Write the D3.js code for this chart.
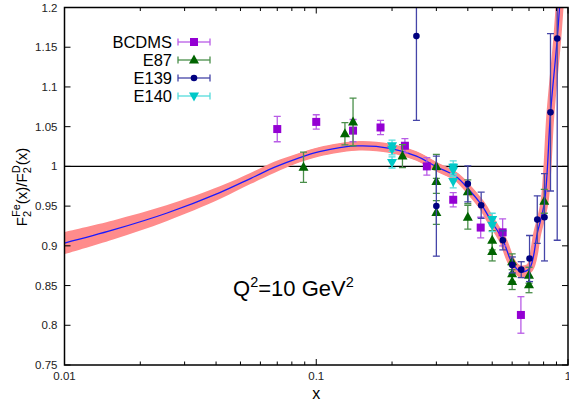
<!DOCTYPE html>
<html><head><meta charset="utf-8">
<script src="https://cdn.jsdelivr.net/npm/d3@7"></script>
<style>body{margin:0;background:#fff}svg{display:block;font-family:"Liberation Sans",Arial,sans-serif}</style>
</head><body><svg id="c" width="569" height="400"></svg>
<script>
// ---- data ----
const curveX   = [0.01,0.0156,0.0254,0.0414,0.055,0.0684,0.085,0.103,0.144,0.196,0.25,0.300,0.360,0.406,0.455,0.488,0.551,0.601,0.652,0.7035,0.755,0.8065,0.852,0.906,0.93];
const curveY   = [0.9035,0.920,0.941,0.967,0.985,0.999,1.0105,1.0185,1.0257,1.0228,1.013,0.9996,0.987,0.970,0.951,0.9346,0.9073,0.878,0.8674,0.8717,0.9158,0.955,1.067,1.160,1.21];
const curveErr = [0.014,0.012,0.010,0.008,0.007,0.007,0.006,0.006,0.006,0.006,0.006,0.006,0.006,0.006,0.007,0.007,0.007,0.008,0.008,0.008,0.009,0.010,0.012,0.015,0.016];

const bcdmsX = [0.07,0.1,0.14,0.18,0.225,0.275,0.35,0.45,0.55,0.65];
const bcdmsY = [1.047,1.056,1.045,1.049,1.026,1.000,0.958,0.923,0.917,0.813];
const bcdmsE = [0.016,0.009,0.014,0.009,0.009,0.011,0.009,0.013,0.017,0.023];

const e87X = [0.089,0.13,0.14,0.22,0.30,0.30,0.30,0.40,0.40,0.50,0.50,0.60,0.60,0.60,0.70,0.70,0.805];
const e87Y = [0.999,1.041,1.056,1.013,1.000,0.981,0.942,0.968,0.936,0.907,0.893,0.880,0.865,0.855,0.863,0.851,0.956];
const e87E = [0.019,0.014,0.030,0.0145,0.015,0.015,0.015,0.015,0.015,0.012,0.012,0.010,0.010,0.010,0.010,0.010,0.015];

const e139X = [0.25,0.30,0.40,0.452,0.551,0.601,0.652,0.7035,0.755,0.8065,0.852,0.906];
const e139Y = [1.164,0.950,0.978,0.951,0.907,0.876,0.870,0.884,0.933,0.936,1.068,1.161];
const e139E = [0.106,0.063,0.0227,0.0165,0.012,0.01,0.01,0.029,0.03,0.055,0.099,0.254];

const e140X = [0.2,0.2,0.2,0.35,0.35,0.35,0.5,0.5];
const e140Y = [1.026,1.0215,1.005,0.999,0.995,0.981,0.933,0.926];
const e140E = [0.007,0.007,0.007,0.008,0.008,0.008,0.008,0.008];

const yTicks = [0.75,0.8,0.85,0.9,0.95,1,1.05,1.1,1.15,1.2];
const xTicks = [0.01,0.1,1];
const xTickLabels = ["0.01","0.1","1"];
const legendNames = ["BCDMS","E87","E139","E140"];

// ---- layout ----
const svg = d3.select("#c");
const L=64.5, R=568, T=7.5, B=365;
const x = d3.scaleLog().domain([0.01,1]).range([L,R]);
const y = d3.scaleLinear().domain([0.75,1.2]).range([B,T]);

svg.append("defs").append("clipPath").attr("id","clip")
  .append("rect").attr("x",L).attr("y",T).attr("width",R-L).attr("height",B-T);

const plot = svg.append("g").attr("clip-path","url(#clip)");

plot.append("line").attr("x1",L).attr("x2",R).attr("y1",y(1)).attr("y2",y(1))
  .attr("stroke","#000").attr("stroke-width",1.3);

const cdata = curveX.map((v,i)=>({x:v,y:curveY[i],e:curveErr[i]}));
const cv = d3.curveCatmullRom.alpha(0.5);
const area = d3.area().x(d=>x(d.x)).y0(d=>y(d.y-d.e)).y1(d=>y(d.y+d.e)).curve(cv);
const line = d3.line().x(d=>x(d.x)).y(d=>y(d.y)).curve(cv);
plot.append("path").datum(cdata).attr("d",area).attr("fill","#ff8c8c");
plot.append("path").datum(cdata).attr("d",line).attr("fill","none").attr("stroke","#ff8c8c").attr("stroke-width",8);
plot.append("path").datum(cdata).attr("d",line).attr("fill","none").attr("stroke","#1a1aff").attr("stroke-width",1.3);

const series = [
  {name:legendNames[0],X:bcdmsX,Y:bcdmsY,E:bcdmsE,col:"#9400d3",bar:"#b85ce6",shape:"square"},
  {name:legendNames[1],X:e87X,Y:e87Y,E:e87E,col:"#006400",bar:"#4a8f4a",shape:"tri"},
  {name:legendNames[2],X:e139X,Y:e139Y,E:e139E,col:"#000080",bar:"#4545a8",shape:"circle"},
  {name:legendNames[3],X:e140X,Y:e140Y,E:e140E,col:"#00c8c8",bar:"#55dcdc",shape:"itri"}
];
function marker(g,shape,col){
  if(shape==="square") g.append("rect").attr("x",-4).attr("y",-4).attr("width",8).attr("height",8).attr("fill",col);
  else if(shape==="tri") g.append("path").attr("d","M0,-5.5L5,3.5L-5,3.5Z").attr("fill",col);
  else if(shape==="itri") g.append("path").attr("d","M0,5.5L5,-3.5L-5,-3.5Z").attr("fill",col);
  else g.append("circle").attr("r",3.3).attr("fill",col);
}
series.forEach(s=>{
  const g = plot.append("g");
  s.X.forEach((xv,i)=>{
    const px=x(xv), y1=y(s.Y[i]+s.E[i]), y2=y(s.Y[i]-s.E[i]);
    g.append("line").attr("x1",px).attr("x2",px).attr("y1",y1).attr("y2",y2).attr("stroke",s.bar).attr("stroke-width",1.3);
    [y1,y2].forEach(yy=>g.append("line").attr("x1",px-3.5).attr("x2",px+3.5).attr("y1",yy).attr("y2",yy).attr("stroke",s.bar).attr("stroke-width",1.3));
  });
  s.X.forEach((xv,i)=>{
    marker(g.append("g").attr("transform",`translate(${x(xv)},${y(s.Y[i])})`),s.shape,s.col);
  });
});

// frame & ticks
const ax = svg.append("g").attr("stroke","#000");
yTicks.forEach(t=>{
  ax.append("line").attr("x1",L).attr("x2",L+6).attr("y1",y(t)).attr("y2",y(t)).attr("stroke-width",1);
  ax.append("line").attr("x1",R).attr("x2",R-6).attr("y1",y(t)).attr("y2",y(t)).attr("stroke-width",1);
});
const minor=[];
[0.01,0.1].forEach(d=>{for(let k=2;k<=9;k++) minor.push(d*k);});
minor.forEach(t=>{
  ax.append("line").attr("x1",x(t)).attr("x2",x(t)).attr("y1",B).attr("y2",B-3.5).attr("stroke-width",1);
  ax.append("line").attr("x1",x(t)).attr("x2",x(t)).attr("y1",T).attr("y2",T+3.5).attr("stroke-width",1);
});
xTicks.forEach(t=>{
  ax.append("line").attr("x1",x(t)).attr("x2",x(t)).attr("y1",B).attr("y2",B-6).attr("stroke-width",1);
  ax.append("line").attr("x1",x(t)).attr("x2",x(t)).attr("y1",T).attr("y2",T+6).attr("stroke-width",1);
});
svg.append("rect").attr("x",L).attr("y",T).attr("width",R-L).attr("height",B-T)
  .attr("fill","none").attr("stroke","#000").attr("stroke-width",1.5);

const fmt = d=>String(+d.toFixed(2));
yTicks.forEach(t=>svg.append("text").attr("x",L-7).attr("y",y(t)+4).attr("text-anchor","end")
  .attr("font-size",11.5).attr("fill","#222").text(fmt(t)));
xTicks.forEach((t,i)=>svg.append("text").attr("x",x(t)).attr("y",379.5).attr("text-anchor","middle")
  .attr("font-size",11.5).attr("fill","#222").text(xTickLabels[i]));

svg.append("text").attr("x",x(0.1)).attr("y",398.5).attr("text-anchor","middle").attr("font-size",16).text("x");

// y label with stacked sub/superscripts
(function(){
  const g = svg.append("g").attr("transform","translate(27,187) rotate(-90)");
  const parts = [
    {t:"F",k:"n"},{t:"2",k:"sub",stack:true},{t:"Fe",k:"sup"},{t:"(x)/F",k:"n"},
    {t:"2",k:"sub",stack:true},{t:"D",k:"sup"},{t:"(x)",k:"n"}
  ];
  let cx=0, stackStart=null, stackW=0;
  const els=[];
  parts.forEach(p=>{
    const fs = p.k==="n"?15:11;
    const dy = p.k==="sub"?4:(p.k==="sup"?-7:0);
    if(p.k==="sup" && stackStart!==null){ cx=stackStart; }
    const el = g.append("text").attr("x",cx).attr("y",dy).attr("font-size",fs).text(p.t);
    const w = el.node().getComputedTextLength();
    if(p.stack){ stackStart=cx; stackW=w; cx+=w; }
    else if(p.k==="sup" && stackStart!==null){ cx=stackStart+Math.max(w,stackW); stackStart=null; }
    else cx+=w;
    els.push(el);
  });
  els.forEach(e=>e.attr("x",+e.attr("x")-cx/2));
})();

// Q2 annotation
const q = svg.append("text").attr("x",233).attr("y",296).attr("font-size",22);
q.append("tspan").text("Q");
q.append("tspan").attr("dy",-9).attr("font-size",14.5).text("2");
q.append("tspan").attr("dy",9).text("=10 GeV");
q.append("tspan").attr("dy",-9).attr("font-size",14.5).text("2");

// legend
series.forEach((s,i)=>{
  const yy = 42 + i*18;
  svg.append("text").attr("x",172).attr("y",yy+6).attr("text-anchor","end").attr("font-size",16.5).text(s.name);
  const g = svg.append("g");
  g.append("line").attr("x1",178).attr("x2",210).attr("y1",yy).attr("y2",yy).attr("stroke",s.bar).attr("stroke-width",1.3);
  [178,210].forEach(xx=>g.append("line").attr("x1",xx).attr("x2",xx).attr("y1",yy-3.5).attr("y2",yy+3.5).attr("stroke",s.bar).attr("stroke-width",1.3));
  marker(g.append("g").attr("transform",`translate(194,${yy})`),s.shape,s.col);
});
</script></body></html>
